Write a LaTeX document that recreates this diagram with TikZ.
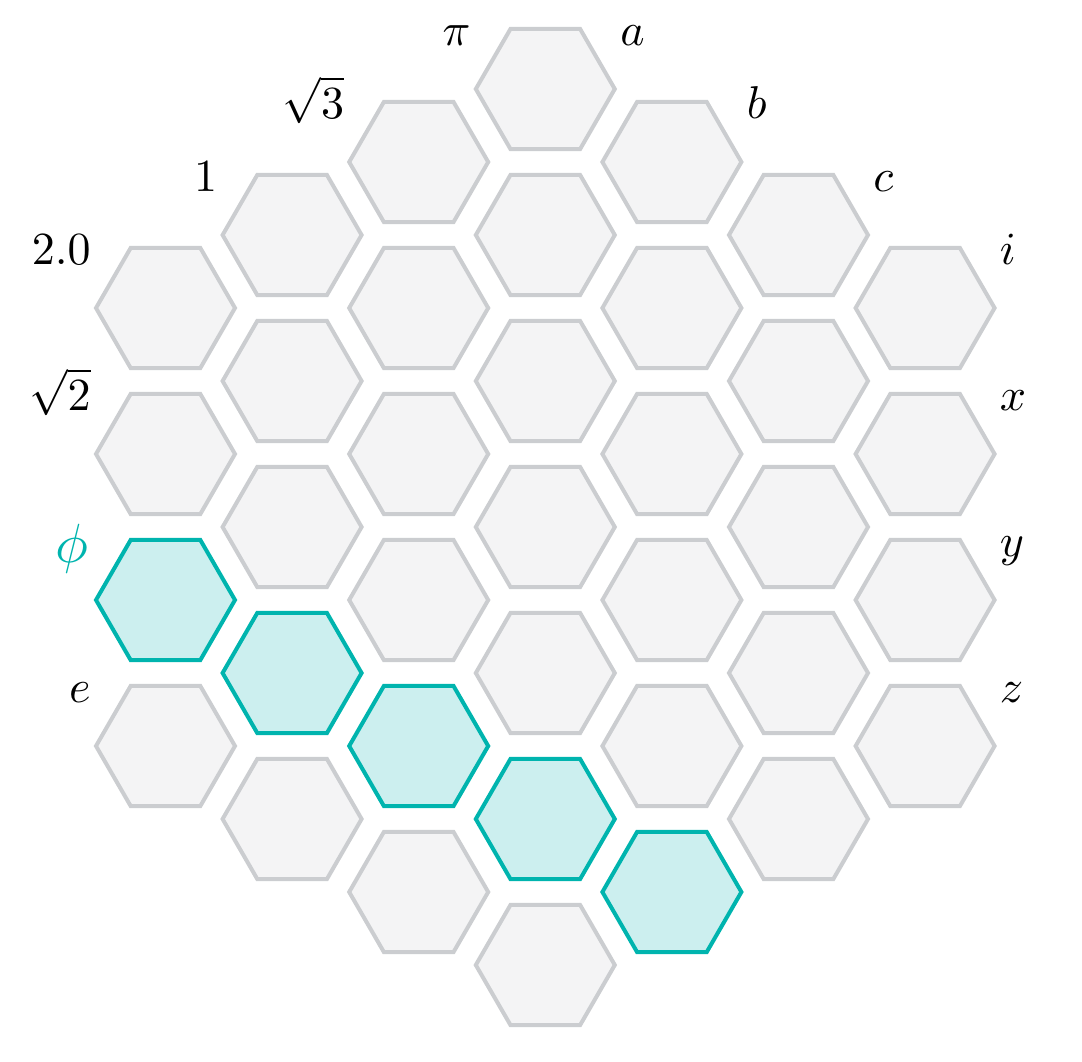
\documentclass[tikz,border=0pt]{standalone}
\usepackage{graphicx}
\usetikzlibrary{shapes.geometric}
\definecolor{hexfill}{HTML}{F4F4F5}
\definecolor{hexline}{HTML}{CBCDD0}
\definecolor{tealfill}{HTML}{CCEFEF}
\definecolor{tealline}{HTML}{00B4AE}
\newcommand{\hexlbl}[1]{\scalebox{2.3}{$#1$}}
\newcommand{\hexphilbl}[1]{\scalebox{2.76}{$#1$}}
\begin{document}
\begin{tikzpicture}[x=0.5pt,y=-0.5pt,
  hexcell/.style={regular polygon, regular polygon sides=6, minimum size=69.5pt,
    inner sep=0pt, outer sep=0pt, draw=hexline, fill=hexfill, line width=2pt, line join=miter},
  tealcell/.style={draw=tealline, fill=tealfill},
  cell-0-2/.style={tealcell}, cell-1-3/.style={tealcell}, cell-2-4/.style={tealcell},
  cell-3-5/.style={tealcell}, cell-4-5/.style={tealcell},
  lbl/.style={inner sep=0pt, font=\fontsize{10}{12}\selectfont},
  philbl/.style={lbl, text=tealline}]
\useasboundingbox (0,0) rectangle (1082,1061);
\foreach \k/\n in {0/3,1/4,2/5,3/6,4/5,5/4,6/3}{
  \foreach \j in {0,...,\n}{
    \pgfmathsetmacro\cx{165.5+126.6*\k}
    \pgfmathsetmacro\cy{89+73*abs(\k-3)+146*\j}
    \node[hexcell, cell-\k-\j/.try] (h-\k-\j) at (\cx,\cy) {};
  }}
% left labels
\node[lbl, anchor=base east] (lpi) at (471,45) {\hexlbl{\pi}};
\node[lbl, anchor=base east] (lsq3) at (344.5,118) {\hexlbl{\sqrt{3}}};
\node[lbl, anchor=base east] (lone) at (217.6,191) {\hexlbl{1}};
\node[lbl, anchor=base east] (ltwo) at (91,264) {\hexlbl{2.0}};
\node[lbl, anchor=base east] (lsq2) at (91,410) {\hexlbl{\sqrt{2}}};
\node[philbl, anchor=base east] (lphi) at (89,562) {\hexphilbl{\phi}};
\node[lbl, anchor=base east] (le) at (91,702) {\hexlbl{e}};
% right labels
\node[lbl, anchor=base west] (la) at (620,45) {\hexlbl{a}};
\node[lbl, anchor=base west] (lb) at (746.5,118) {\hexlbl{b}};
\node[lbl, anchor=base west] (lc) at (873,191) {\hexlbl{c}};
\node[lbl, anchor=base west] (li) at (999.5,264) {\hexlbl{i}};
\node[lbl, anchor=base west] (lx) at (999.5,410) {\hexlbl{x}};
\node[lbl, anchor=base west] (ly) at (999.5,556) {\hexlbl{y}};
\node[lbl, anchor=base west] (lz) at (999.5,702) {\hexlbl{z}};
\end{tikzpicture}
\end{document}
